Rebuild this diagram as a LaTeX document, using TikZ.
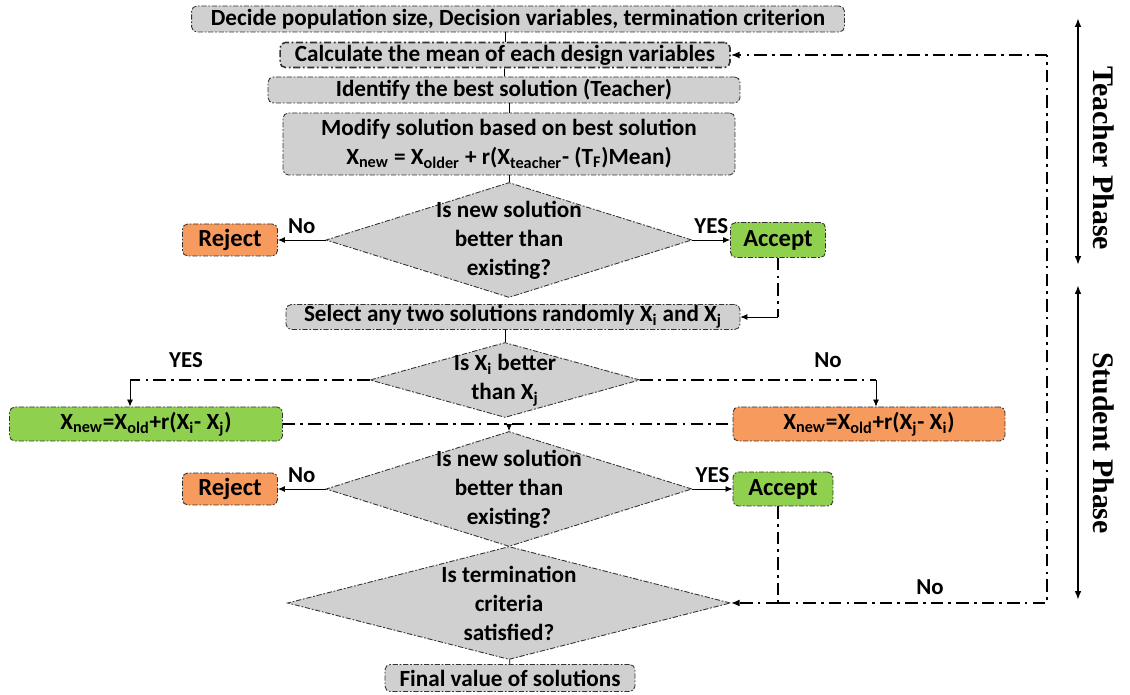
\documentclass[tikz,border=0pt]{standalone}
\usepackage{fontspec}
\setmainfont{Carlito}
\newfontfamily\phasefont{Liberation Serif}
\usetikzlibrary{shapes.geometric,arrows.meta}
\definecolor{boxgray}{RGB}{208,208,208}
\definecolor{rejcol}{RGB}{247,154,94}
\definecolor{acccol}{RGB}{143,209,79}
\tikzset{
  box/.style={draw=black!80, fill=boxgray, rounded corners=3pt, line width=0.5pt,
    dash pattern=on 3pt off 1pt on 1pt off 1pt, inner sep=0pt,
    font=\fontsize{13.2}{16.5}\selectfont\bfseries, align=center},
  dec/.style={diamond, draw=black!80, fill=boxgray, line width=0.5pt,
    dash pattern=on 3pt off 1pt on 1pt off 1pt, inner sep=0pt},
  dectext/.style={font=\fontsize{13.2}{16.5}\selectfont\bfseries, align=center},
  lab/.style={font=\fontsize{13}{15}\selectfont\bfseries},
  arr/.style={-{Latex[length=4pt,width=3.5pt]}, line width=0.5pt},
  dd/.style={line width=1.3pt, dash pattern=on 7pt off 3pt on 1.5pt off 3pt},
}
\begin{document}
\begin{tikzpicture}[x=0.02cm,y=-0.02cm]
  \useasboundingbox (0,0) rectangle (1130,695);
  % teacher phase
  \node[box, minimum width=13.06cm, minimum height=0.52cm] (init) at (518,19)
    {Decide population size, Decision variables, termination criterion};
  \node[box, line width=0.9pt, dash pattern=on 4pt off 1.5pt on 1pt off 1.5pt,
    minimum width=9.0cm, minimum height=0.5cm] (mean) at (505,55)
    {Calculate the mean of each design variables};
  \node[box, minimum width=9.44cm, minimum height=0.52cm] (best) at (504,90)
    {Identify the best solution (Teacher)};
  \node[box, minimum width=9.04cm, minimum height=1.24cm] (modify) at (509,144)
    {Modify solution based on best solution\\
     X\textsubscript{new} = X\textsubscript{older} + r(X\textsubscript{teacher}- (T\textsubscript{F})Mean)};
  \node[dec, minimum width=7.32cm, minimum height=2.3cm] (dec1) at (509,240) {};
  \node[dectext] at (dec1) {Is new solution\\better than\\existing?};
  \node[box, fill=rejcol, minimum width=1.9cm, minimum height=0.64cm] (rej1) at (230,240) {\fontsize{14}{16}\selectfont Reject};
  \node[box, fill=acccol, minimum width=1.9cm, minimum height=0.7cm] (acc1) at (778,240) {\fontsize{14}{16}\selectfont Accept};
  % student phase
  \node[box, minimum width=9.08cm, minimum height=0.5cm] (select) at (513,317)
    {Select any two solutions randomly X\textsubscript{i} and X\textsubscript{j}};
  \node[dec, minimum width=5.4cm, minimum height=1.5cm] (dec2) at (505,380) {};
  \node[dectext] at (dec2) {Is X\textsubscript{i} better\\than X\textsubscript{j}};
  \node[box, fill=acccol, minimum width=5.46cm, minimum height=0.68cm] (upi) at (146,424)
    {X\textsubscript{new}=X\textsubscript{old}+r(X\textsubscript{i}- X\textsubscript{j})};
  \node[box, fill=rejcol, minimum width=5.44cm, minimum height=0.68cm] (upj) at (869,424)
    {X\textsubscript{new}=X\textsubscript{old}+r(X\textsubscript{j}- X\textsubscript{i})};
  \node[dec, minimum width=7.32cm, minimum height=2.3cm] (dec3) at (509,489) {};
  \node[dectext] at (dec3) {Is new solution\\better than\\existing?};
  \node[box, fill=rejcol, minimum width=1.9cm, minimum height=0.64cm] (rej2) at (230,489) {\fontsize{14}{16}\selectfont Reject};
  \node[box, fill=acccol, minimum width=2.0cm, minimum height=0.68cm] (acc2) at (783,489) {\fontsize{14}{16}\selectfont Accept};
  \node[dec, minimum width=8.86cm, minimum height=2.26cm] (dec4) at (509,603) {};
  \node[dectext] at (dec4) {Is termination\\criteria\\satisfied?};
  \node[box, minimum width=5.0cm, minimum height=0.54cm] (final) at (510,678)
    {Final value of solutions};
  % straight links
  \draw (mean.north) -- (mean.north |- init.south);
  \draw (mean) -- (best);
  \draw (best.south -| modify) -- (modify.north);
  \draw (modify) -- (dec1);
  \draw[arr] (dec1.west) -- (rej1.east) node[lab, midway, above] {No};
  \draw[arr] (dec1.east) -- (acc1.west) node[lab, midway, above] {YES};
  \coordinate (acc1sel) at (acc1.south |- select.east);
  \draw[dd] (acc1.south) -- (acc1sel);
  \draw[arr] (acc1sel) -- (select.east);
  \draw (select.south -| dec2) -- (dec2.north);
  % branches of the Xi / Xj test
  \coordinate (yesturn) at (130,380);
  \coordinate (noturn) at (876,380);
  \draw[dd] (dec2.west) -- (yesturn);
  \draw[arr] (yesturn) -- (yesturn |- upi.north);
  \draw[dd] (dec2.east) -- (noturn);
  \draw[arr] (noturn) -- (noturn |- upj.north);
  \node[lab] (yeslab) at (186,360) {YES};
  \node[lab] (nolab) at (828,360) {No};
  \draw[dd] (upi.east) -- (upj.west);
  \coordinate (merge) at (dec3.north |- upi.east);
  \draw[arr] (merge) -- (dec3.north);
  \draw[arr] (dec3.west) -- (rej2.east) node[lab, midway, above] {No};
  \draw[arr] (dec3.east) -- (acc2.west) node[lab, midway, above] {YES};
  % back to the termination test
  \coordinate (acc2turn) at (778,603);
  \draw[dd] (acc2.south -| acc2turn) -- (acc2turn);
  \draw[dd, -{Latex[length=5pt,width=4pt]}] (acc2turn) -- (dec4.east);
  \coordinate (loopbot) at (1047,603);
  \coordinate (looptop) at (1047,55);
  \draw[dd] (acc2turn) -- (loopbot) -- (looptop);
  \draw[dd, -{Latex[length=5pt,width=4pt]}] (looptop) -- (mean.east);
  \node[lab] (loopno) at (930,587) {No};
  \draw (dec4) -- (final);
  % phases
  \draw[{Latex[length=5pt]}-{Latex[length=5pt]}, line width=1.2pt] (1078,18) -- (1078,265);
  \draw[{Latex[length=5pt]}-{Latex[length=5pt]}, line width=1.2pt] (1078,285) -- (1078,600);
  \node[rotate=-90, font=\phasefont\fontsize{17}{20}\selectfont\bfseries] (teach) at (1104,158) {Teacher Phase};
  \node[rotate=-90, font=\phasefont\fontsize{17}{20}\selectfont\bfseries] (stud) at (1104,443) {Student Phase};
\end{tikzpicture}
\end{document}
